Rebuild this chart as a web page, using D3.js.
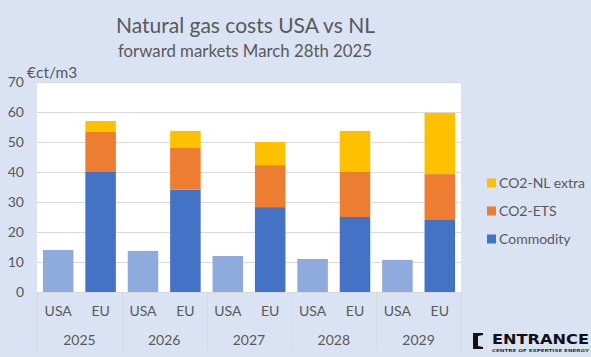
<!DOCTYPE html>
<html>
<head>
<meta charset="utf-8">
<script src="https://cdn.jsdelivr.net/npm/d3@7"></script>
<style>
  html, body { margin: 0; padding: 0; background: #dae3f3; }
  svg { display: block; }
  text { font-family: Lato, "Open Sans", sans-serif; fill: #595959; }
</style>
</head>
<body>
<svg id="chart" width="591" height="357"></svg>
<script>
// ---- data ----
const years = ["2025", "2026", "2027", "2028", "2029"];
const regions = ["USA", "EU"];
const usaValues = [14.0, 13.7, 12.0, 11.0, 10.7];
const commodity = [40.0, 34.1, 28.3, 25.0, 24.0];
const co2Ets = [13.4, 13.9, 14.0, 15.0, 15.3];
const co2NlExtra = [3.6, 5.7, 7.7, 13.7, 20.4];
const seriesNames = ["Commodity", "CO2-ETS", "CO2-NL extra"];
const yTicks = [0, 10, 20, 30, 40, 50, 60, 70];
const titleText = "Natural gas costs USA vs NL";
const subtitleText = "forward markets March 28th 2025";
const unitText = "€ct/m3";

// ---- styles ----
const colors = {
  "USA": "#8faadc",
  "Commodity": "#4472c4",
  "CO2-ETS": "#ed7d31",
  "CO2-NL extra": "#ffc000"
};

const svg = d3.select("#chart");
const plot = { left: 37, right: 461, top: 82, bottom: 292 };

const x0 = d3.scaleBand().domain(years).range([plot.left, plot.right]).paddingInner(0).paddingOuter(0);
const x1 = d3.scaleBand().domain(regions).range([0, x0.bandwidth()]).paddingInner(0.28).paddingOuter(0.14);
const y = d3.scaleLinear().domain([0, 70]).range([plot.bottom, plot.top]);

// plot background
svg.append("rect")
  .attr("x", plot.left).attr("y", plot.top)
  .attr("width", plot.right - plot.left).attr("height", plot.bottom - plot.top)
  .attr("fill", "#ffffff");

// gridlines
svg.append("g").selectAll("line").data(yTicks.filter(d => d > 0)).join("line")
  .attr("x1", plot.left).attr("x2", plot.right)
  .attr("y1", d => Math.round(y(d)) + 0.5).attr("y2", d => Math.round(y(d)) + 0.5)
  .attr("stroke", "#d9d9d9").attr("stroke-width", 1);

// y axis labels
const yAxis = d3.axisLeft(y).tickValues(yTicks).tickSize(0).tickPadding(0);
const yg = svg.append("g").attr("transform", `translate(${24},0)`).call(yAxis);
yg.select(".domain").remove();
yg.selectAll("text").attr("font-size", 14).attr("fill", "#595959")
  .style("font-family", "Lato, sans-serif").attr("dy", "0.35em");

// unit label
svg.append("text").attr("x", 27).attr("y", 78).attr("font-size", 15.5).text(unitText);

// stacked data for EU
const stackInput = years.map((yr, i) => ({
  year: yr, "Commodity": commodity[i], "CO2-ETS": co2Ets[i], "CO2-NL extra": co2NlExtra[i]
}));
const stacked = d3.stack().keys(seriesNames)(stackInput);

// USA bars
svg.append("g").selectAll("rect").data(years).join("rect")
  .attr("x", d => x0(d) + x1("USA"))
  .attr("width", x1.bandwidth())
  .attr("y", (d, i) => y(usaValues[i]))
  .attr("height", (d, i) => y(0) - y(usaValues[i]))
  .attr("fill", colors["USA"]);

// EU stacked bars
svg.append("g").selectAll("g").data(stacked).join("g")
  .attr("fill", s => colors[s.key])
  .selectAll("rect").data(s => s).join("rect")
  .attr("x", d => x0(d.data.year) + x1("EU"))
  .attr("width", x1.bandwidth())
  .attr("y", d => y(d[1]))
  .attr("height", d => y(d[0]) - y(d[1]));

// category axis lines
const axisG = svg.append("g");
axisG.append("line")
  .attr("x1", plot.left).attr("x2", plot.right)
  .attr("y1", plot.bottom + 0.5).attr("y2", plot.bottom + 0.5)
  .attr("stroke", "#d9d9d9");
const seps = years.map(yr => x0(yr)).concat([x0(years[years.length - 1]) + x0.bandwidth()]);
axisG.selectAll("line.sep").data(seps).join("line").attr("class", "sep")
  .attr("x1", d => Math.round(d) + 0.5).attr("x2", d => Math.round(d) + 0.5)
  .attr("y1", plot.bottom).attr("y2", 351)
  .attr("stroke", "#d9d9d9");

// region labels
years.forEach(yr => {
  regions.forEach(r => {
    svg.append("text")
      .attr("x", x0(yr) + x1(r) + x1.bandwidth() / 2)
      .attr("y", 316).attr("text-anchor", "middle").attr("font-size", 14)
      .text(r);
  });
  svg.append("text")
    .attr("x", x0(yr) + x0.bandwidth() / 2)
    .attr("y", 345).attr("text-anchor", "middle").attr("font-size", 14)
    .text(yr);
});

// title
svg.append("text").attr("x", 245.5).attr("y", 32.5).attr("text-anchor", "middle")
  .attr("font-size", 21).text(titleText);
svg.append("text").attr("x", 245).attr("y", 57).attr("text-anchor", "middle")
  .attr("font-size", 16.8).text(subtitleText);

// legend
const legendItems = ["CO2-NL extra", "CO2-ETS", "Commodity"];
const lg = svg.append("g");
legendItems.forEach((k, i) => {
  const cy = 183 + i * 28;
  lg.append("rect").attr("x", 487).attr("y", cy - 4.5).attr("width", 9).attr("height", 9)
    .attr("fill", colors[k]);
  lg.append("text").attr("x", 499).attr("y", cy).attr("dy", "0.35em")
    .attr("font-size", 14).text(k);
});

// logo
const logo = svg.append("g");
logo.append("path")
  .attr("d", "M473,333 L483,333 L483,335 L478,336 L478,346 L483,347 L483,349 L473,349 Z")
  .attr("fill", "#111111");
logo.append("text").attr("x", 492).attr("y", 344)
  .attr("font-size", 14.5).attr("font-weight", 900)
  .attr("textLength", 97).attr("lengthAdjust", "spacingAndGlyphs")
  .style("fill", "#111111").style("font-family", "'DejaVu Sans', sans-serif")
  .text("ENTRANCE");
logo.append("text").attr("x", 492).attr("y", 352.3)
  .attr("font-size", 4).attr("font-weight", 700)
  .attr("textLength", 97).attr("lengthAdjust", "spacingAndGlyphs")
  .style("fill", "#333333").style("font-family", "'DejaVu Sans', sans-serif")
  .text("CENTRE OF EXPERTISE ENERGY");
</script>
</body>
</html>
